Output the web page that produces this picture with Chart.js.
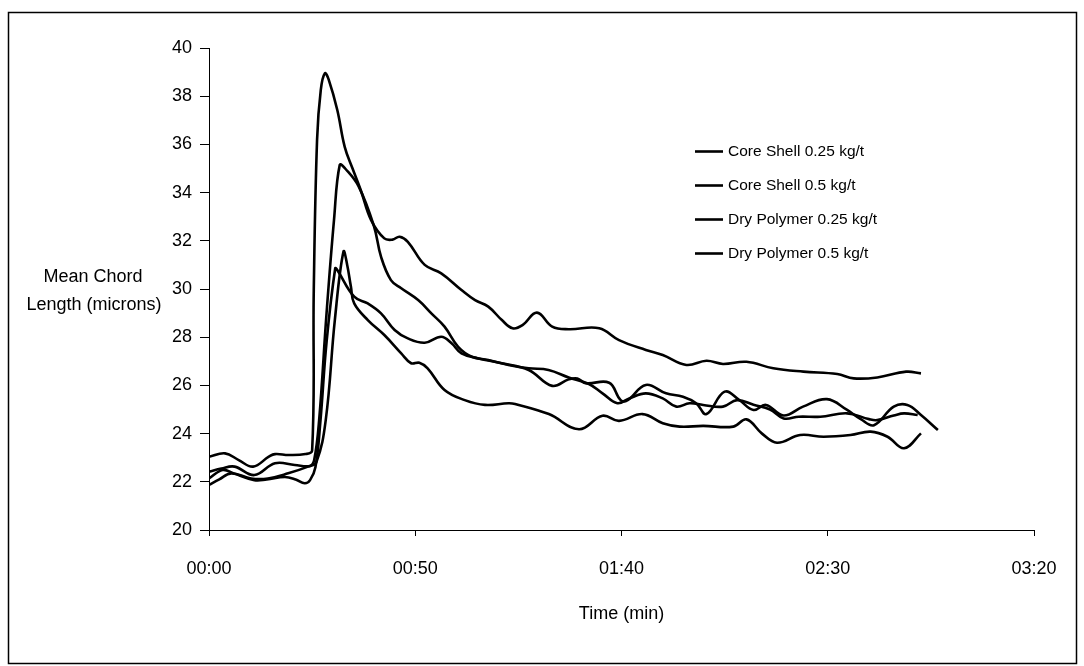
<!DOCTYPE html>
<html>
<head>
<meta charset="utf-8">
<script src="https://cdn.jsdelivr.net/npm/chart.js@4.4.1/dist/chart.umd.min.js"></script>
<style>
  html, body { margin: 0; padding: 0; background: #fff; }
  canvas { display: block; }
</style>
</head>
<body>
<canvas id="chordChart" width="1084" height="666"></canvas>
<script>
// time in seconds, values in microns
const cs025Time = [0, 3.9, 7.2, 10.7, 14.5, 16, 19.3, 23.4, 25.0, 25.4, 26.2, 27.1, 28.1, 29, 31.1, 32.9, 34.8, 36.8, 39.3, 42.5, 44.5, 46.2, 48.2, 52.3, 56.3, 61.2, 64.5, 67.7, 71, 73.6, 76, 79.5, 83.2, 87.2, 94.6, 99.4, 105.9, 110, 115.7, 120.6, 124.6, 130.3, 136.8, 144.1, 152.3, 156.3, 162, 169, 172.6];
const cs025Value = [23.04, 23.18, 22.9, 22.63, 23.04, 23.15, 23.11, 23.15, 23.3, 29.96, 36.2, 38.26, 38.95, 38.7, 37.43, 35.9, 35.0, 34.1, 32.86, 32.1, 32.05, 32.17, 31.96, 31.0, 30.65, 29.96, 29.54, 29.27, 28.71, 28.37, 28.5, 29.02, 28.44, 28.33, 28.37, 27.88, 27.47, 27.26, 26.85, 27.02, 26.89, 26.98, 26.71, 26.57, 26.47, 26.29, 26.33, 26.57, 26.5];

const cs05Time = [0, 3, 6.2, 11, 16, 20.8, 24.5, 25.5, 26.7, 28.5, 30.3, 31.7, 33, 36.3, 40, 41.7, 44.1, 46.6, 50.7, 53.9, 57.1, 60.4, 63.7, 67.7, 72.6, 77.5, 82.3, 87.2, 92.1, 95.4, 99, 101.9, 105.9, 110, 113.3, 116.5, 119.8, 124.6, 128, 132, 136, 139.3, 143, 148.2, 154.7, 160, 162, 166, 168.5, 171.8];
const cs05Value = [22.42, 22.55, 22.63, 22.28, 22.77, 22.7, 22.66, 22.9, 24.56, 29.0, 32.86, 35.15, 35.0, 34.25, 32.6, 31.34, 30.37, 30.03, 29.54, 28.99, 28.44, 27.6, 27.19, 27.05, 26.85, 26.71, 26.64, 26.33, 26.06, 25.67, 25.26, 25.46, 25.67, 25.46, 25.12, 25.26, 25.19, 25.12, 25.39, 25.2, 25.0, 24.63, 24.7, 24.7, 24.84, 24.6, 24.56, 24.75, 24.84, 24.77];

const dp025Time = [0, 3.3, 6, 11, 14, 18.4, 21, 23.2, 24.5, 25.8, 27, 28.5, 30.6, 31.1, 35.2, 38.5, 41.7, 45, 48.2, 52.3, 56.3, 58.8, 61.2, 65.3, 71, 77.5, 83.2, 87.2, 89.3, 91.3, 97, 99.8, 101.5, 105.9, 110.8, 114.9, 118.1, 120.6, 125, 128.5, 132, 135, 139.3, 144, 149.8, 154.7, 158, 161.2, 166, 169.3, 172.6, 176.7];
const dp025Value = [22.14, 22.49, 22.35, 22.07, 22.1, 22.2, 22.1, 21.94, 22.07, 22.6, 24.5, 27.8, 30.86, 30.79, 29.68, 29.4, 28.99, 28.3, 27.95, 27.77, 28.02, 27.75, 27.33, 27.12, 26.92, 26.64, 25.98, 26.25, 26.29, 26.09, 26.11, 25.39, 25.39, 26.02, 25.67, 25.53, 25.26, 24.81, 25.74, 25.4, 24.98, 25.19, 24.75, 25.12, 25.43, 24.98, 24.6, 24.35, 25.12, 25.19, 24.77, 24.15];

const dp05Time = [0, 2.5, 5.4, 10.2, 14.3, 19.2, 24, 26, 28.3, 30.5, 32.6, 33.5, 34.4, 35.2, 38.5, 42.5, 46.6, 49, 51, 53, 57.1, 62, 66.9, 72.6, 74.2, 82.4, 89.7, 95.4, 99.4, 105.1, 110, 114.1, 119.8, 127.1, 130.3, 134, 137.7, 143.3, 149, 155.5, 160.4, 164.5, 168.5, 172.6];
const dp05Value = [21.87, 22.1, 22.35, 22.14, 22.14, 22.35, 22.63, 22.8, 24.56, 28.7, 31.55, 31.0, 30.1, 29.4, 28.71, 28.09, 27.33, 26.92, 26.94, 26.71, 25.81, 25.39, 25.19, 25.26, 25.23, 24.81, 24.18, 24.74, 24.53, 24.81, 24.43, 24.29, 24.32, 24.29, 24.59, 24.01, 23.62, 23.94, 23.87, 23.94, 24.08, 23.87, 23.39, 24.01];

const seriesNames = ['Core Shell 0.25 kg/t', 'Core Shell 0.5 kg/t', 'Dry Polymer 0.25 kg/t', 'Dry Polymer 0.5 kg/t'];
const yTitleLines = ['Mean Chord', 'Length (microns)'];
const xTitle = 'Time (min)';

const FONT = "'Liberation Sans', Arial, sans-serif";

function pts(t, v) {
  return t.map((x, i) => ({ x: x, y: v[i] }));
}

function mmss(s) {
  const m = Math.floor(s / 60);
  const r = Math.round(s % 60);
  return String(m).padStart(2, '0') + ':' + String(r).padStart(2, '0');
}

function line(label, t, v) {
  return {
    label: label,
    data: pts(t, v),
    borderColor: '#000',
    backgroundColor: 'transparent',
    borderWidth: 2.6,
    pointRadius: 0,
    tension: 0.4
  };
}

// frame, horizontal y title and the legend box inside the plot
const extras = {
  id: 'extras',
  afterDraw(chart) {
    const ctx = chart.ctx;
    ctx.save();
    ctx.strokeStyle = '#000';
    ctx.lineWidth = 1.5;
    ctx.strokeRect(8.5, 12.5, 1068, 651);

    ctx.fillStyle = '#000';
    ctx.font = '18px ' + FONT;
    ctx.textAlign = 'center';
    ctx.textBaseline = 'middle';
    ctx.fillText(yTitleLines[0], 93, 277);
    ctx.fillText(yTitleLines[1], 94, 305);

    ctx.font = '15.5px ' + FONT;
    ctx.textAlign = 'left';
    ctx.lineWidth = 2.6;
    chart.data.datasets.forEach((ds, i) => {
      const y = 151.5 + i * 34;
      ctx.beginPath();
      ctx.moveTo(695, y);
      ctx.lineTo(723, y);
      ctx.stroke();
      ctx.fillText(ds.label, 728, y);
    });
    ctx.restore();
  }
};

new Chart(document.getElementById('chordChart'), {
  type: 'line',
  data: {
    datasets: [
      line(seriesNames[0], cs025Time, cs025Value),
      line(seriesNames[1], cs05Time, cs05Value),
      line(seriesNames[2], dp025Time, dp025Value),
      line(seriesNames[3], dp05Time, dp05Value)
    ]
  },
  options: {
    responsive: false,
    animation: false,
    devicePixelRatio: 1,
    layout: { padding: { top: 48, right: 50, bottom: 0, left: 0 } },
    plugins: {
      legend: { display: false },
      tooltip: { enabled: false }
    },
    scales: {
      x: {
        type: 'linear',
        min: 0,
        max: 200,
        afterFit(scale) { scale.height = 136; },
        grid: { drawOnChartArea: false, drawTicks: true, tickLength: 6, color: '#000' },
        border: { display: true, color: '#000', width: 1 },
        ticks: {
          stepSize: 50,
          padding: 22,
          color: '#000',
          font: { family: FONT, size: 18 },
          maxRotation: 0,
          callback: (v) => mmss(v)
        },
        title: {
          display: true,
          text: xTitle,
          color: '#000',
          font: { family: FONT, size: 18 },
          padding: { top: 0, bottom: 41 }
        }
      },
      y: {
        min: 20,
        max: 40,
        afterFit(scale) { scale.width = 209; },
        grid: { drawOnChartArea: false, drawTicks: true, tickLength: 9, color: '#000' },
        border: { display: true, color: '#000', width: 1 },
        ticks: {
          stepSize: 2,
          padding: 8,
          color: '#000',
          font: { family: FONT, size: 18 }
        }
      }
    }
  },
  plugins: [extras]
});
</script>
</body>
</html>
